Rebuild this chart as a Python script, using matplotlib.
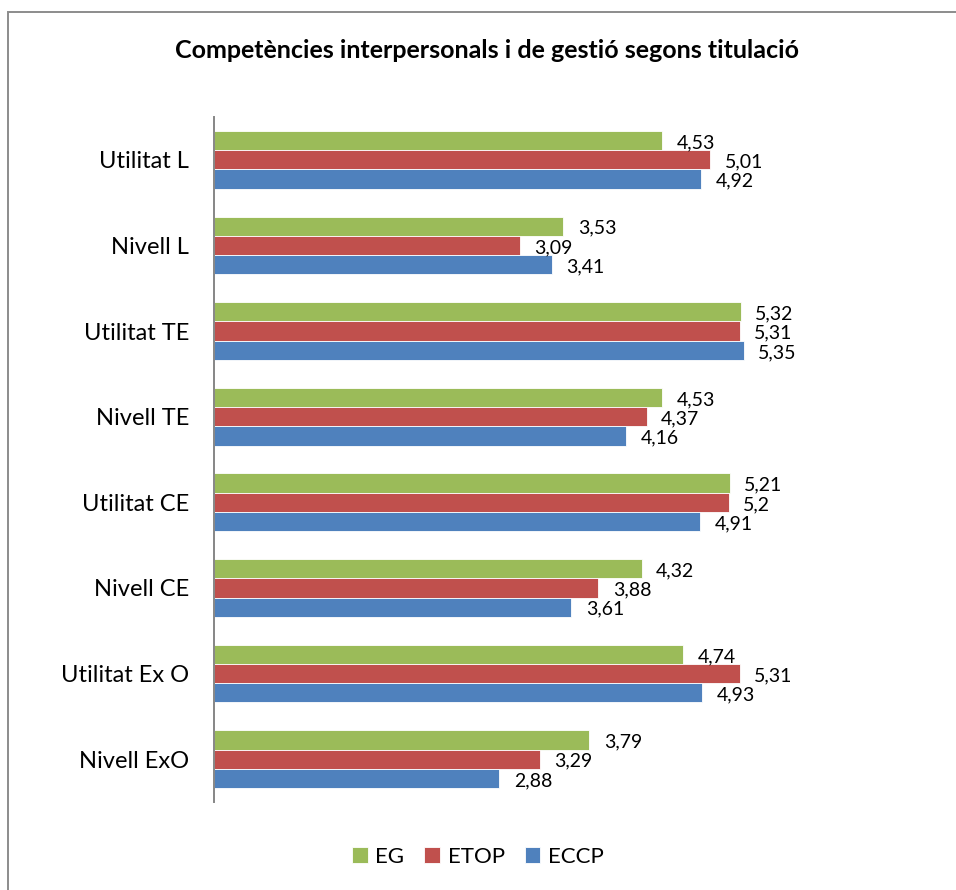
import numpy as np
import matplotlib
matplotlib.use("Agg")
import matplotlib.pyplot as plt
from matplotlib.patches import Rectangle

# dades
categories = ["Utilitat L", "Nivell L", "Utilitat TE", "Nivell TE",
              "Utilitat CE", "Nivell CE", "Utilitat Ex O", "Nivell ExO"]
eg = [4.53, 3.53, 5.32, 4.53, 5.21, 4.32, 4.74, 3.79]
etop = [5.01, 3.09, 5.31, 4.37, 5.2, 3.88, 5.31, 3.29]
eccp = [4.92, 3.41, 5.35, 4.16, 4.91, 3.61, 4.93, 2.88]
series_names = ["EG", "ETOP", "ECCP"]
colors = ["#9BBB59", "#C0504D", "#4F81BD"]

plt.rcParams['font.family'] = ['Lato', 'DejaVu Sans']

fig = plt.figure(figsize=(9.56, 8.9), dpi=100)
ax = fig.add_axes([214/956, 88/890, 594/956, 685/890])

n = len(categories)
y = np.arange(n)[::-1]  # primer grup a dalt
h = 0.225
offsets = [h, 0, -h]

for vals, name, col, off in zip([eg, etop, eccp], series_names, colors, offsets):
    bars = ax.barh(y + off, vals, height=h, color=col, edgecolor='white',
                   linewidth=0.6, label=name)
    for b, v in zip(bars, vals):
        ax.annotate(f"{v:g}".replace('.', ','),
                    (b.get_width(), b.get_y() + b.get_height() / 2),
                    xytext=(10.5, -1.5), textcoords='offset points',
                    ha='left', va='center', fontsize=14, color='black')

ax.set_xlim(0, 6)
ax.set_ylim(-0.5, n - 0.5)
ax.set_yticks(y)
ax.set_yticklabels(categories, fontsize=17)
ax.tick_params(axis='y', length=0, pad=18)
ax.set_xticks([])
for s in ['top', 'right', 'bottom']:
    ax.spines[s].set_visible(False)
ax.spines['left'].set_color('#868686')
ax.spines['left'].set_linewidth(1.4)

fig.text(487/956, 1 - 50/890, "Competències interpersonals i de gestió segons titulació",
         ha='center', va='center', fontsize=18, fontweight='bold')

ax.legend(loc='center', bbox_to_anchor=(478/956, 33/890), bbox_transform=fig.transFigure,
          ncol=3, frameon=False, fontsize=16, handlelength=0.7, handleheight=0.7,
          handletextpad=0.35, columnspacing=0.9)

# marc exterior
fig.patches.append(Rectangle((8/956, -0.1), 1.2, 1 - 12/890 + 0.1, transform=fig.transFigure,
                             fill=False, edgecolor='#8c8c8c', linewidth=1.4))

fig.savefig('out.png', dpi=100)
